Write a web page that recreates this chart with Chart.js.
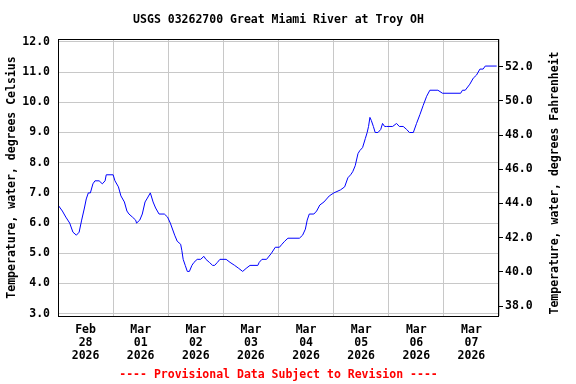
<!DOCTYPE html>
<html>
<head>
<meta charset="utf-8">
<script src="https://cdn.jsdelivr.net/npm/chart.js@4"></script>
<style>
  html, body { margin: 0; padding: 0; background: #fff; }
  canvas { display: block; }
</style>
</head>
<body>
<canvas id="chart" width="576" height="384"></canvas>
<script>
const title = 'USGS 03262700 Great Miami River at Troy OH'
const footnote = '---- Provisional Data Subject to Revision ----'
const leftTitle = 'Temperature, water, degrees Celsius'
const rightTitle = 'Temperature, water, degrees Fahrenheit'

// hours since Feb 28 2026 00:00
const hours = [
  0, 1.9, 3.4, 5.1, 6.5, 8.0, 9.2, 10.3, 11.5, 12.3, 13.2, 14.1, 15.2, 16.1, 17.9, 19.3, 20.5, 21.0,
  24.0, 24.8, 26.3, 27.4, 28.9, 30.0, 30.9, 32.4, 33.8, 34.2, 35.6, 36.7, 37.9, 38.7, 40.2, 41.4, 42.5,
  44.0, 46.3, 47.7, 48.9, 50.8, 51.9, 53.4, 53.9, 54.5, 55.4, 56.3, 57.2, 58.3, 59.2, 60.6, 62.1, 63.5,
  64.4, 65.9, 67.3, 68.2, 69.4, 70.5, 73.2, 74.9, 76.9, 78.7, 80.4, 81.9, 83.6, 87.0, 87.6, 88.8, 90.8,
  92.9, 94.6, 96.4, 97.5, 98.7, 100.1, 105.1, 106.5, 107.7, 108.5, 109.4, 111.4, 112.6, 114.0, 115.8,
  118.1, 120.1, 123.0, 124.8, 126.2, 127.4, 128.3, 129.4, 130.6, 131.4, 132.6, 133.8, 134.6, 135.2,
  135.8, 136.4, 137.3, 138.1, 139.3, 140.5, 141.3, 142.2, 143.1, 145.7, 147.4, 148.6, 150.3, 151.8,
  153.0, 154.7, 156.1, 157.6, 159.0, 160.5, 161.9, 165.4, 167.4, 175.3, 176.1, 177.3, 179.3, 180.8,
  182.2, 183.7, 185.1, 186.0, 191.0,
]
const tempC = [
  6.6, 6.4, 6.2, 6.0, 5.7, 5.6, 5.7, 6.1, 6.5, 6.8, 7.0, 7.0, 7.3, 7.4, 7.4, 7.3, 7.4, 7.6,
  7.6, 7.4, 7.2, 6.9, 6.7, 6.4, 6.3, 6.2, 6.1, 6.0, 6.1, 6.3, 6.7, 6.8, 7.0, 6.7, 6.5,
  6.3, 6.3, 6.2, 6.0, 5.6, 5.4, 5.3, 5.1, 4.8, 4.6, 4.4, 4.4, 4.6, 4.7, 4.8, 4.8, 4.9,
  4.8, 4.7, 4.6, 4.6, 4.7, 4.8, 4.8, 4.7, 4.6, 4.5, 4.4, 4.5, 4.6, 4.6, 4.7, 4.8, 4.8,
  5.0, 5.2, 5.2, 5.3, 5.4, 5.5, 5.5, 5.6, 5.8, 6.1, 6.3, 6.3, 6.4, 6.6, 6.7,
  6.9, 7.0, 7.1, 7.2, 7.5, 7.6, 7.7, 7.9, 8.3, 8.4, 8.5, 8.8, 9.0, 9.2,
  9.5, 9.4, 9.2, 9.0, 9.0, 9.1, 9.3, 9.2, 9.2, 9.2, 9.3, 9.2, 9.2, 9.1,
  9.0, 9.0, 9.3, 9.6, 9.9, 10.2, 10.4, 10.4, 10.3, 10.3, 10.4, 10.4, 10.6, 10.8,
  10.9, 11.1, 11.1, 11.2, 11.2,
]

const dayLabels = [
  ['Feb', '28', '2026'], ['Mar', '01', '2026'], ['Mar', '02', '2026'], ['Mar', '03', '2026'],
  ['Mar', '04', '2026'], ['Mar', '05', '2026'], ['Mar', '06', '2026'], ['Mar', '07', '2026'],
]
const celsiusTicks = [3, 4, 5, 6, 7, 8, 9, 10, 11, 12]
const fahrenheitTicks = [38, 40, 42, 44, 46, 48, 50, 52]

const FONT = { family: 'DejaVu Sans Mono', size: 11.5, weight: 'bold' }
const GRID = '#c8c8c8'

const setTicks = values => scale => { scale.ticks = values.map(value => ({ value })) }

const frameAndText = {
  id: 'frameAndText',
  afterDraw(chart) {
    const { ctx, chartArea: a } = chart
    const cx = (a.left + a.right) / 2
    ctx.save()
    ctx.strokeStyle = '#000'
    ctx.lineWidth = 1
    ctx.strokeRect(a.left + 0.5, a.top + 0.5, a.right - a.left - 1, a.bottom - a.top)
    ctx.font = `bold ${FONT.size}px "${FONT.family}"`
    ctx.textAlign = 'center'
    ctx.textBaseline = 'middle'
    ctx.fillStyle = '#000'
    ctx.fillText(title, cx, 20)
    ctx.fillStyle = '#ff0000'
    ctx.fillText(footnote, cx, 375)
    // right axis title reads bottom-to-top, like the left one
    ctx.fillStyle = '#000'
    ctx.translate(555, 183)
    ctx.rotate(-Math.PI / 2)
    ctx.fillText(rightTitle, 0, 0)
    ctx.restore()
  },
}

new Chart(document.getElementById('chart'), {
  type: 'line',
  data: {
    datasets: [{
      data: hours.map((h, i) => ({ x: h, y: tempC[i] })),
      borderColor: '#0000ff',
      borderWidth: 1,
      pointRadius: 0,
      tension: 0,
      fill: false,
    }],
  },
  options: {
    responsive: false,
    animation: false,
    layout: { padding: { top: 39 } },
    plugins: { legend: { display: false }, tooltip: { enabled: false } },
    scales: {
      x: {
        type: 'linear',
        min: 0,
        max: 192,
        afterBuildTicks: setTicks(Array.from({ length: 17 }, (_, i) => i * 12)),
        afterFit: scale => { scale.height = 68 },
        border: { display: false },
        grid: {
          drawTicks: false,
          color: c => (c.tick && c.tick.value % 24 === 0 ? GRID : 'rgba(0,0,0,0)'),
        },
        ticks: {
          autoSkip: false,
          maxRotation: 0,
          padding: 8,
          color: '#000',
          font: { ...FONT, lineHeight: 1.11 },
          callback: v => (v % 24 === 12 ? dayLabels[(v - 12) / 24] : ''),
        },
      },
      y: {
        position: 'left',
        min: 2.924,
        max: 12.096,
        afterBuildTicks: setTicks(celsiusTicks),
        afterFit: scale => { scale.width = 58 },
        border: { display: false },
        grid: { drawTicks: false, color: GRID },
        ticks: { padding: 8, color: '#000', font: FONT, callback: v => v.toFixed(1) },
        title: { display: true, text: leftTitle, color: '#000', font: FONT, padding: { top: 5, bottom: 0 } },
      },
      y1: {
        position: 'right',
        min: 37.42,
        max: 53.62,
        afterBuildTicks: setTicks(fahrenheitTicks),
        afterFit: scale => { scale.width = 77 },
        border: { display: false },
        grid: { drawOnChartArea: false, drawTicks: true, tickLength: 4, color: '#000' },
        ticks: { padding: 2, color: '#000', font: FONT, callback: v => v.toFixed(1) },
      },
    },
  },
  plugins: [frameAndText],
})
</script>
</body>
</html>
